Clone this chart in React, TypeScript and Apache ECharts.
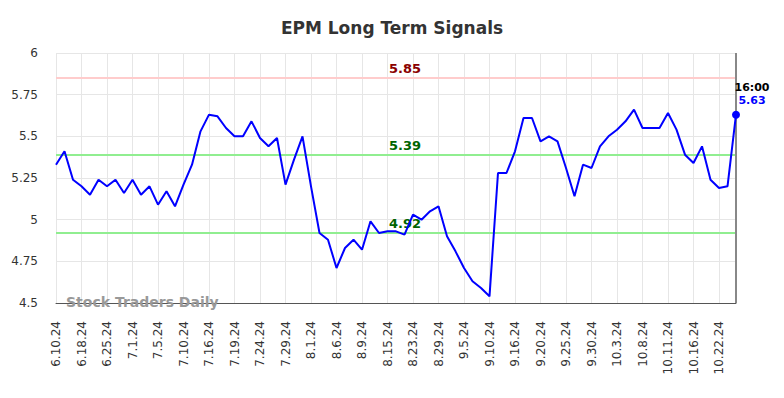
import React, { useEffect, useRef } from "react";
import * as echarts from "echarts";

const categories: string[] = [
  "6.10.24", "6.12.24", "6.14.24", "6.18.24", "6.20.24", "6.21.24", "6.25.24", "6.26.24", "6.28.24",
  "7.1.24", "7.2.24", "7.3.24", "7.5.24", "7.8.24", "7.9.24", "7.10.24", "7.12.24", "7.15.24",
  "7.16.24", "7.17.24", "7.18.24", "7.19.24", "7.22.24", "7.23.24", "7.24.24", "7.25.24", "7.26.24",
  "7.29.24", "7.30.24", "7.31.24", "8.1.24", "8.2.24", "8.5.24", "8.6.24", "8.7.24", "8.8.24",
  "8.9.24", "8.12.24", "8.13.24", "8.15.24", "8.19.24", "8.21.24", "8.23.24", "8.26.24", "8.27.24",
  "8.29.24", "8.30.24", "9.3.24", "9.5.24", "9.6.24", "9.9.24", "9.10.24", "9.11.24", "9.13.24",
  "9.16.24", "9.17.24", "9.18.24", "9.20.24", "9.23.24", "9.24.24", "9.25.24", "9.26.24", "9.27.24",
  "9.30.24", "10.1.24", "10.2.24", "10.3.24", "10.4.24", "10.7.24", "10.8.24", "10.9.24", "10.10.24",
  "10.11.24", "10.14.24", "10.15.24", "10.16.24", "10.17.24", "10.18.24", "10.22.24", "10.23.24", "10.24.24",
];

const prices: number[] = [
  5.33, 5.41, 5.24, 5.2, 5.15, 5.24, 5.2, 5.24, 5.16,
  5.24, 5.15, 5.2, 5.09, 5.17, 5.08, 5.21, 5.33, 5.53,
  5.63, 5.62, 5.55, 5.5, 5.5, 5.59, 5.49, 5.44, 5.49,
  5.21, 5.36, 5.5, 5.2, 4.92, 4.88, 4.71, 4.83, 4.88,
  4.82, 4.99, 4.92, 4.93, 4.93, 4.91, 5.03, 5.0, 5.05,
  5.08, 4.9, 4.81, 4.71, 4.63, 4.59, 4.54, 5.28, 5.28,
  5.41, 5.61, 5.61, 5.47, 5.5, 5.47, 5.31, 5.14, 5.33,
  5.31, 5.44, 5.5, 5.54, 5.59, 5.66, 5.55, 5.55, 5.55,
  5.64, 5.54, 5.39, 5.34, 5.44, 5.24, 5.19, 5.2, 5.63,
];

const resistanceLevel = 5.85;
const supportLevels: number[] = [5.39, 4.92];
const lastTimeLabel = "16:00";
const titleText = "EPM Long Term Signals";
const watermarkText = "Stock Traders Daily";

const FONT = "DejaVu Sans";

export default function App() {
  const ref = useRef<HTMLDivElement>(null);

  useEffect(() => {
    document.body.style.margin = "0";
    if (!ref.current) return;
    const chart = echarts.init(ref.current, undefined, { renderer: "svg" });
    const lastIdx = prices.length - 1;
    const lastCat = categories[lastIdx];
    const lastVal = prices[lastIdx];

    const levelLabel = (color: string) => ({
      show: true,
      position: "insideMiddleTop" as const,
      color,
      fontWeight: "bold" as const,
      fontSize: 13,
      fontFamily: FONT,
      distance: 3,
      padding: [0, 0, 0, 18],
      formatter: (p: any) => String(p.value),
    });

    chart.setOption({
      animation: false,
      title: {
        text: titleText,
        left: "center",
        top: 14,
        textStyle: { fontFamily: FONT, fontSize: 17, fontWeight: "bold", color: "#333" },
      },
      grid: { left: 56, right: 48, top: 53, bottom: 95 },
      xAxis: {
        type: "category",
        data: categories,
        boundaryGap: false,
        axisLine: { show: true, lineStyle: { color: "#555", width: 1 } },
        axisTick: { show: false },
        axisLabel: {
          interval: 2,
          rotate: 90,
          margin: 18,
          fontFamily: FONT,
          fontSize: 12,
          color: "#333",
        },
        splitLine: { show: true, interval: 2, lineStyle: { color: "#e6e6e6", width: 1 } },
      },
      yAxis: {
        type: "value",
        min: 4.5,
        max: 6,
        interval: 0.25,
        axisLine: { show: false },
        axisTick: { show: false },
        axisLabel: { margin: 18, fontFamily: FONT, fontSize: 12, color: "#333" },
        splitLine: { show: true, lineStyle: { color: "#e6e6e6", width: 1 } },
      },
      graphic: [
        {
          type: "text",
          left: 66,
          top: 295,
          style: {
            text: watermarkText,
            fill: "#999",
            font: `bold 14px "${FONT}"`,
          },
          z: 10,
        },
      ],
      series: [
        {
          type: "line",
          data: prices,
          showSymbol: false,
          symbol: "none",
          lineStyle: { color: "#0000ff", width: 2 },
          itemStyle: { color: "#0000ff" },
          z: 5,
          markLine: {
            silent: true,
            symbol: "none",
            data: [
              {
                yAxis: resistanceLevel,
                lineStyle: { color: "#ffcccc", width: 2, type: "solid" },
                label: levelLabel("#8b0000"),
              },
              ...supportLevels.map((v) => ({
                yAxis: v,
                lineStyle: { color: "#90ee90", width: 2, type: "solid" },
                label: levelLabel("#006400"),
              })),
              {
                xAxis: lastCat,
                lineStyle: { color: "#888", width: 2, type: "solid" },
                label: { show: false },
              },
            ],
          },
          markPoint: {
            silent: true,
            data: [
              {
                coord: [lastCat, lastVal],
                symbol: "circle",
                symbolSize: 8,
                itemStyle: { color: "#0000ff" },
                label: {
                  show: true,
                  position: "top",
                  offset: [16, 0],
                  distance: 4,
                  formatter: `{t|${lastTimeLabel}}\n{v|${lastVal.toFixed(2)}}`,
                  rich: {
                    t: { fontFamily: FONT, fontSize: 11, fontWeight: "bold", color: "#000", lineHeight: 13 },
                    v: { fontFamily: FONT, fontSize: 11, fontWeight: "bold", color: "#0000ff", lineHeight: 13 },
                  },
                },
              },
            ],
          },
        },
      ],
    });

    return () => chart.dispose();
  }, []);

  return <div ref={ref} style={{ width: 784, height: 398 }} />;
}
